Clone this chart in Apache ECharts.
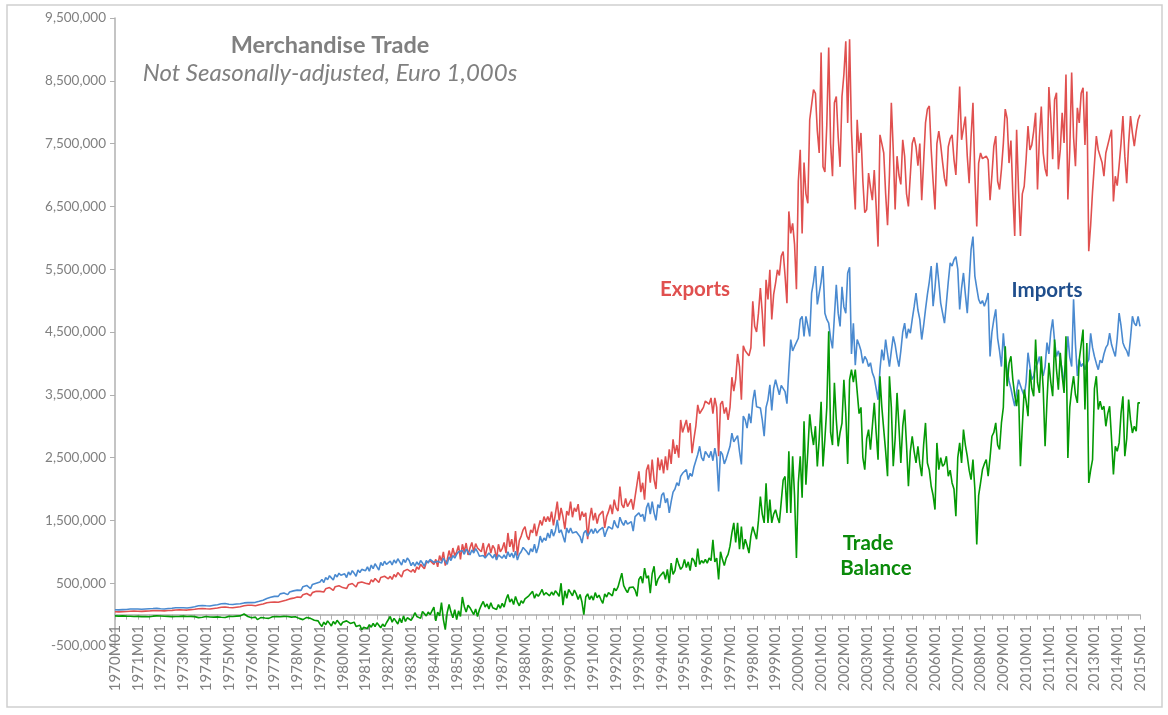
<!DOCTYPE html>
<html>
<head>
<meta charset="utf-8">
<title>Merchandise Trade</title>
<script src="https://cdn.jsdelivr.net/npm/echarts/dist/echarts.min.js"></script>
<style>
  html, body { margin: 0; padding: 0; background: #fff; }
  #chart { width: 1168px; height: 715px; }
</style>
</head>
<body>
<div id="chart"></div>
<script>
// monthly values, Euro 1,000s, written in thousands (x1000 when plotted)
const firstYear = 1970;
const lastYear = 2015; // data stops at 2015M01

const exportsK = [
  45,48,44,50,47,52,49,46,53,50,55,52,
  54,57,52,60,56,62,58,55,63,59,65,61,
  62,66,60,70,65,72,68,64,74,69,76,72,
  74,80,72,86,79,90,84,78,92,86,96,90,
  92,100,90,108,98,112,104,96,116,106,120,112,
  112,124,108,130,118,136,126,116,140,128,148,138,
  150,160,142,172,158,180,170,160,188,176,196,186,
  200,214,196,226,212,240,228,214,250,236,262,250,
  280,300,275,315,300,335,318,300,350,330,370,355,
  370,395,360,410,390,430,410,385,445,420,460,440,
  430,455,415,475,450,495,470,440,505,480,520,500,
  500,530,485,555,520,575,545,510,590,560,610,580,
  570,610,560,640,600,670,640,600,690,660,720,690,
  680,720,670,760,720,800,770,730,830,800,860,830,
  800,880,760,940,850,1000,780,870,1020,900,1060,940,
  1000,1100,880,1120,1000,1140,950,1060,1150,1000,1130,1060,
  1080,1000,1140,920,1060,1130,980,1100,1050,880,1120,1000,
  1050,1150,980,1300,1080,1200,1000,1330,940,1180,1250,1350,
  1400,1250,1190,1350,1300,1450,1250,1380,1500,1420,1560,1480,
  1560,1480,1640,1420,1600,1800,1500,1700,1560,1360,1650,1580,
  1800,1550,1700,1640,1760,1500,1640,1560,1620,1200,1520,1700,
  1500,1620,1450,1580,1560,1650,1380,1560,1640,1750,1600,1830,
  1700,1650,2040,1750,1700,1850,1720,1780,1840,1670,1880,1900,
  2280,1950,2100,1830,2300,2390,2100,2470,2150,2000,2500,2300,
  2470,2250,2520,2300,2630,2400,2790,2560,2700,2500,3100,2900,
  3000,3100,2900,3050,2570,2800,3000,3340,3200,3250,3300,3400,
  3420,3350,3450,3200,3450,3300,2520,3350,3400,3200,3300,3100,
  3300,3780,3560,3750,4150,3950,3420,4280,4200,4170,4120,4250,
  4990,4590,4500,4800,5200,4800,4270,5330,5020,5490,4700,5100,
  5280,5490,5400,5710,5780,5400,4960,6420,6070,6230,5900,5180,
  6900,7400,6070,7200,6700,6550,7880,7900,8360,8300,7700,7350,
  8950,7130,7050,7800,9030,7500,6980,8150,8250,7600,7130,8250,
  8600,9130,7830,9160,7700,7000,6450,7880,7350,7670,6900,6400,
  6450,7030,6800,6600,7080,6500,5860,7640,7500,7350,6700,6200,
  7000,8150,7400,6450,7300,7000,6850,7560,7300,6700,6500,6500,
  7500,7600,7450,7150,7500,6600,7200,7830,8050,8100,7400,6900,
  6450,7500,7700,7480,7200,6950,6820,7450,7580,7640,7250,7000,
  7700,8410,7560,7530,7930,7300,6870,7600,8150,7000,6180,7190,
  7350,7260,7280,7300,7240,6600,7000,7460,7620,6900,6770,7090,
  7500,8050,7900,7190,7550,6700,6030,7720,6770,6030,6700,6820,
  7250,7780,7400,7480,7700,7990,6770,7600,8090,7350,7100,6980,
  8400,7900,7250,8200,8310,7090,7400,7990,7510,8600,6610,7400,
  8630,7600,7140,8070,7830,8300,8390,7480,8330,5785,6200,6740,
  6710,7620,7400,7300,7200,6980,7350,7350,7600,7720,6580,6980,
  6830,7150,7500,7940,7300,6870,7500,7940,7670,7460,7700,7880,
  7960
];

const importsK = [
  78,80,76,84,79,86,82,78,88,83,90,86,
  88,92,85,97,90,100,94,88,96,92,99,95,
  92,98,90,104,96,106,100,94,108,100,110,104,
  108,118,104,126,114,134,124,116,140,128,146,136,
  140,150,138,160,150,168,158,150,172,162,178,170,
  165,175,160,180,168,184,172,162,186,176,190,182,
  190,205,195,220,212,238,230,220,255,245,275,270,
  290,310,290,330,318,345,332,318,360,345,378,362,
  390,420,385,445,420,465,440,415,480,455,500,480,
  520,560,510,590,555,620,585,550,640,600,660,625,
  600,650,590,680,630,700,660,610,710,670,720,690,
  700,760,690,790,730,810,760,710,830,780,850,800,
  800,850,790,870,820,890,840,790,880,830,900,860,
  780,830,770,840,790,860,820,770,860,820,880,850,
  830,860,850,880,820,900,870,800,920,860,940,900,
  960,1000,990,1020,960,1040,1000,950,1030,980,1050,1000,
  930,960,940,900,920,980,940,900,960,870,950,940,
  900,950,890,1000,920,980,900,1010,870,960,1000,1070,
  1100,1000,950,1050,1000,1120,980,1080,1250,1150,1220,1180,
  1300,1220,1360,1250,1330,1510,1300,1350,1320,1150,1380,1300,
  1380,1300,1330,1320,1350,1240,1140,1300,1340,1250,1300,1360,
  1290,1370,1300,1340,1350,1390,1240,1330,1400,1420,1360,1500,
  1420,1380,1550,1470,1420,1500,1440,1460,1480,1330,1560,1540,
  1620,1560,1600,1480,1700,1780,1600,1800,1620,1500,1750,1700,
  1900,1940,1780,1850,1620,1800,1950,2000,2100,2050,2200,2250,
  2250,2310,2150,2250,2200,2350,2450,2550,2680,2500,2450,2600,
  2550,2500,2600,2450,2650,2500,1960,2600,2550,2400,2480,2500,
  2680,2890,2750,2730,2850,2600,2390,3160,3100,2970,3200,3050,
  3400,3580,3310,3290,3290,3100,2840,3300,3420,3660,3250,3600,
  3740,3740,3500,3650,3620,3550,3360,3900,4380,4200,4270,4270,
  4400,4700,4750,4430,4750,4600,4430,5120,5300,5550,4940,5120,
  5300,5550,4800,4700,4640,4400,4240,4750,5250,4800,4590,5220,
  4900,4800,5440,5530,4150,4640,3970,4380,4300,4200,4000,4110,
  4060,3950,4010,3850,3770,3600,3420,3900,4220,4050,4380,4150,
  3950,4200,4430,4300,4100,3950,4200,4500,4640,4400,4550,4480,
  4700,4900,5120,4850,4700,4380,4600,4860,5100,5300,5550,4910,
  5200,5600,5300,4960,4800,4640,4960,5300,5600,5550,5650,5700,
  5500,4860,5200,5440,5100,4800,5300,5810,6020,5390,5200,5020,
  4950,5000,4910,5000,5120,4110,4500,4700,4860,4400,4200,3950,
  4480,4100,3900,3720,3600,3450,3320,3550,3740,3650,3560,3480,
  3700,4170,3950,3740,3800,3950,4000,4110,3900,3800,3950,4330,
  4150,4500,4700,4350,4110,4200,4060,3900,3690,4000,4430,4100,
  3950,5020,4300,3800,4060,3950,4000,3900,4000,4060,4480,4250,
  4110,4000,3900,4050,4010,4150,4250,4300,4480,4300,4200,4110,
  4400,4800,4600,4330,4250,4200,4110,4400,4750,4640,4600,4750,
  4590
];

const balanceK = [
  -20,-18,-25,-22,-20,-28,-24,-20,-26,-22,-30,-25,
  -28,-24,-32,-26,-30,-22,-35,-28,-25,-30,-20,-28,
  -22,-30,-26,-34,-28,-24,-32,-26,-30,-22,-28,-20,
  -25,-35,-30,-40,-28,-45,-32,-38,-48,-30,-42,-35,
  -30,-45,-38,-55,-40,-50,-36,-48,-42,-30,-45,-35,
  -28,-40,-30,-45,-25,-38,-20,-15,10,-5,-30,-45,
  -50,-70,-40,-80,-60,-45,-75,-55,-30,-60,-45,-35,
  -40,-30,-50,-35,-45,-28,-38,-30,-25,-40,-30,-35,
  -50,-60,-40,-80,-55,-45,-30,-60,-50,-90,-120,-100,
  -150,-190,-120,-160,-100,-140,-180,-110,-150,-90,-130,-170,
  -120,-150,-100,-80,-140,-170,-120,-190,-220,-170,-240,-200,
  -180,-220,-160,-200,-140,-190,-130,-170,-210,-150,-190,-130,
  -100,-30,-120,-60,-80,-150,-60,-130,-20,-110,-50,-80,
  -90,-40,30,-30,-10,-60,50,80,-20,40,0,60,
  120,-100,40,-20,190,-80,-240,30,160,40,-50,80,
  -80,60,-30,280,130,40,150,110,130,0,90,-30,
  80,150,210,120,170,90,190,110,140,80,160,100,
  180,120,240,320,200,250,160,290,200,140,220,180,
  250,220,300,280,370,260,330,290,340,400,310,350,
  330,300,360,310,380,340,290,500,150,380,260,400,
  350,300,390,330,240,320,200,0,280,330,240,300,
  230,350,270,310,240,180,330,280,350,380,300,420,
  380,440,420,660,460,400,350,430,410,440,390,290,
  560,610,500,740,580,620,340,650,770,460,560,610,
  600,680,560,720,500,820,640,700,900,800,720,760,
  880,750,840,700,900,860,760,1050,800,860,820,880,
  820,900,860,1190,840,900,560,1000,880,780,900,960,
  1090,1300,1460,1150,1460,1040,1400,1040,1200,1100,980,1250,
  1400,1300,1200,1500,1880,1600,1460,2090,1460,1830,1460,1600,
  1670,1550,1460,1800,2140,2200,1620,2600,1620,2520,1900,900,
  2100,2520,1860,3080,2070,2600,3190,2900,2700,3000,2360,2800,
  3390,2360,2800,3300,4510,2900,2700,3690,3100,2680,2900,3050,
  3740,3200,2400,3740,3900,3700,3900,3930,3200,3300,2500,2309,
  2800,2946,2628,3000,3371,2900,2468,3796,3300,2946,2600,2203,
  3796,3300,2362,2800,3530,3000,2415,3000,3265,2700,2044,2600,
  2840,2600,2415,2681,2400,2203,2700,3052,2415,2300,2044,1900,
  1672,2734,2309,2500,2362,2400,2522,2203,2300,2097,2000,1566,
  2500,2734,2415,2946,2700,2522,2300,2150,2468,2000,1115,1900,
  2097,2309,2400,2468,2203,2500,2840,2900,3052,2700,2628,3052,
  3300,4273,3636,4000,4114,3742,3500,3318,3583,2362,3000,3583,
  3400,3159,3902,3600,3477,4379,3700,3530,4114,3600,2681,3400,
  4008,3700,3477,4379,3900,3583,4167,3800,3530,4432,2495,3300,
  3583,3796,3500,3371,4061,4300,4539,3265,4326,2097,2300,2468,
  3600,3796,3265,3400,3265,3318,2999,3200,3318,2800,2230,2681,
  2600,2734,3200,3477,2522,2800,3424,3100,2893,3000,2920,3371,
  3371
];

const yTicks = { min: -500000, max: 9500000, step: 1000000 };

document.addEventListener("DOMContentLoaded", function() {
    const months = [];
    for (let y = firstYear; y <= lastYear; y++) {
        for (let m = 1; m <= 12; m++) {
            months.push(y + 'M' + String(m).padStart(2, '0'));
        }
    }
    const categories = months.slice(0, exportsK.length);

    const toEuro = arr => arr.map(v => v * 1000);

    const grey = '#808080';
    const font = 'Lato, "Open Sans", sans-serif';

    const myChart = echarts.init(document.getElementById('chart'));

    const option = {
        animation: false,
        backgroundColor: '#fff',
        textStyle: { fontFamily: font },
        grid: { left: 115, right: 28, top: 18, bottom: 69, containLabel: false },
        xAxis: {
            type: 'category',
            data: categories,
            boundaryGap: false,
            axisLine: { onZero: true, lineStyle: { color: '#b0b0b0', width: 1.5 } },
            axisTick: { show: true, interval: 5, length: 5, lineStyle: { color: '#b0b0b0' } },
            axisLabel: {
                interval: 11,
                rotate: 90,
                color: grey,
                fontSize: 15,
                fontFamily: font,
                margin: -21 // labels hang just under the zero line, as in the original
            },
            splitLine: { show: false }
        },
        yAxis: {
            type: 'value',
            min: yTicks.min,
            max: yTicks.max,
            interval: yTicks.step,
            axisLine: { show: true, lineStyle: { color: '#b0b0b0', width: 1.5 } },
            axisTick: { show: true, length: 5, lineStyle: { color: '#b0b0b0' } },
            axisLabel: {
                color: grey,
                fontSize: 13.5,
                fontFamily: font,
                margin: 9,
                formatter: v => v.toLocaleString('en-US')
            },
            splitLine: { show: false }
        },
        series: [
            {
                name: 'Exports',
                type: 'line',
                data: toEuro(exportsK),
                showSymbol: false,
                lineStyle: { color: '#E0504F', width: 1.6 },
                itemStyle: { color: '#E0504F' }
            },
            {
                name: 'Imports',
                type: 'line',
                data: toEuro(importsK),
                showSymbol: false,
                lineStyle: { color: '#4A8AD0', width: 1.6 },
                itemStyle: { color: '#4A8AD0' }
            },
            {
                name: 'Trade Balance',
                type: 'line',
                data: toEuro(balanceK),
                showSymbol: false,
                lineStyle: { color: '#059A05', width: 1.6 },
                itemStyle: { color: '#059A05' }
            }
        ],
        graphic: [
            {
                type: 'rect', silent: true, z: -1,
                shape: { x: 7, y: 5, width: 1155, height: 702 },
                style: { fill: 'none', stroke: '#cfcfcf', lineWidth: 1.5 }
            },
            {
                type: 'text', x: 330, y: 45,
                style: { text: 'Merchandise Trade', fill: grey, font: 'bold 23.5px ' + font, textAlign: 'center', textVerticalAlign: 'middle' }
            },
            {
                type: 'text', x: 330, y: 73,
                style: { text: 'Not Seasonally-adjusted, Euro 1,000s', fill: grey, font: 'italic 24px ' + font, textAlign: 'center', textVerticalAlign: 'middle' }
            },
            {
                type: 'text', x: 695, y: 289,
                style: { text: 'Exports', fill: '#E0504F', font: 'bold 20.5px ' + font, textAlign: 'center', textVerticalAlign: 'middle' }
            },
            {
                type: 'text', x: 1047, y: 290,
                style: { text: 'Imports', fill: '#1F4E8C', font: 'bold 20.5px ' + font, textAlign: 'center', textVerticalAlign: 'middle' }
            },
            {
                type: 'text', x: 868, y: 543,
                style: { text: 'Trade', fill: '#0A8A0A', font: 'bold 20.5px ' + font, textAlign: 'center', textVerticalAlign: 'middle' }
            },
            {
                type: 'text', x: 876, y: 568,
                style: { text: 'Balance', fill: '#0A8A0A', font: 'bold 20.5px ' + font, textAlign: 'center', textVerticalAlign: 'middle' }
            }
        ]
    };

    myChart.setOption(option);

    window.addEventListener('resize', () => myChart.resize());
});
</script>
</body>
</html>
